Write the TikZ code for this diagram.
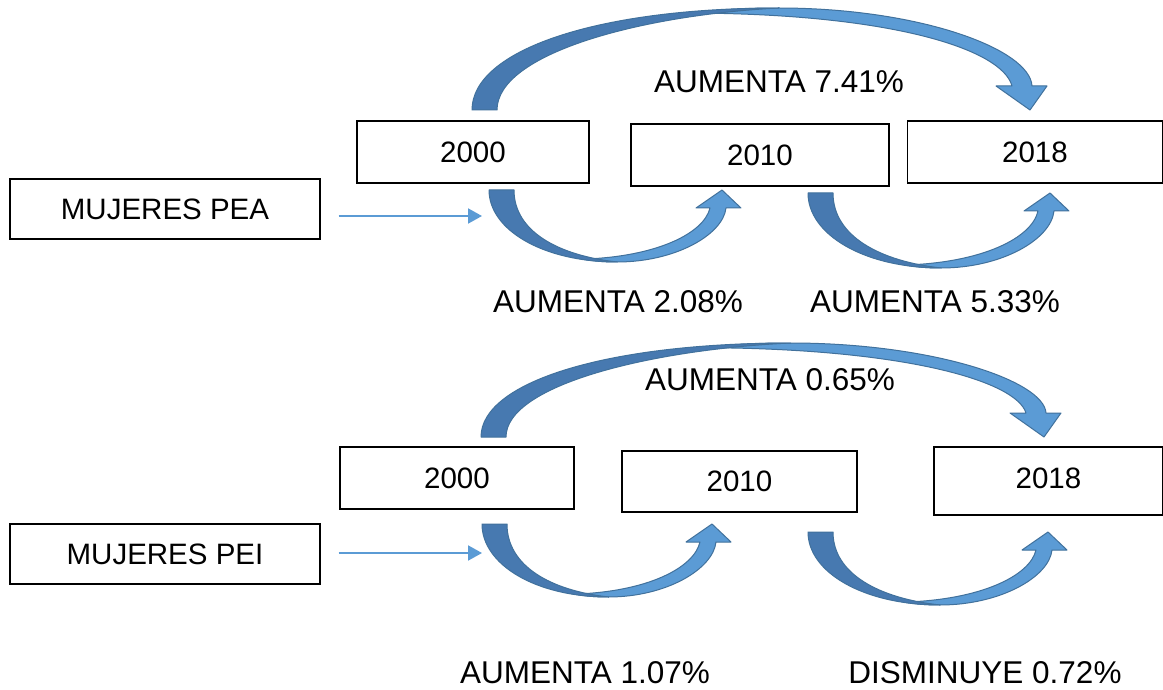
\documentclass[tikz,border=0pt]{standalone}
\usepackage{fontspec}
\setmainfont{Liberation Sans}
\usetikzlibrary{arrows.meta}
\definecolor{adark}{RGB}{71,121,176}
\definecolor{alight}{RGB}{91,155,213}
\definecolor{aline}{RGB}{65,113,156}
% U-shaped curved arrow (bulge downward)
\newcommand{\uarr}[4]{%
\begin{scope}[shift={(#1,#2)}]
\path[fill=alight, draw=aline, line width=1pt, line join=round]
 ({0.55*#3},#4) .. controls ({0.8*#3},#4) and ({#3+1},{0.62*#4}) .. ({#3+4},18)
 -- ({#3+19},18) -- (#3,0) -- ({#3-26},18) -- ({#3-12},18)
 .. controls ({#3-18},{0.6*#4}) and ({0.72*#3},{0.93*#4}) .. ({0.4*#3},{0.96*#4})
 .. controls ({0.45*#3},{0.99*#4}) and ({0.5*#3},#4) .. cycle;
\path[fill=adark, draw=aline, line width=1pt, line join=round]
 (0,0) .. controls (0,{0.55*#4}) and ({0.23*#3},#4) .. ({0.55*#3},#4)
 .. controls ({0.3*#3},{0.91*#4}) and (25,{0.58*#4}) .. (25,0) -- cycle;
\end{scope}}
% arch-shaped curved arrow (bulge upward)
\newcommand{\aarr}[4]{%
\begin{scope}[shift={(#1,#2)}, yscale=-1]
\path[fill=alight, draw=aline, line width=1pt, line join=round]
 ({0.55*#3},#4) .. controls ({0.8*#3},#4) and ({#3},{0.6*#4}) .. ({#3+2},24)
 -- ({#3+17},24) -- (#3,0) -- ({#3-34},24) -- ({#3-18},24)
 .. controls ({#3-28},{0.6*#4}) and ({0.75*#3},{0.94*#4}) .. ({0.4*#3},{0.95*#4})
 .. controls ({0.45*#3},{0.99*#4}) and ({0.5*#3},#4) .. cycle;
\path[fill=adark, draw=aline, line width=1pt, line join=round]
 (0,0) .. controls (0,{0.58*#4}) and ({0.22*#3},#4) .. ({0.55*#3},#4)
 .. controls ({0.3*#3},{0.93*#4}) and (25,{0.55*#4}) .. (25,0) -- cycle;
\end{scope}}
\tikzset{
  box/.style={draw=black, line width=1.2pt, fill=white, inner sep=0pt,
    font=\fontsize{29.5}{35}\selectfont},
  lbl/.style={inner sep=0pt, font=\fontsize{31.5}{37}\selectfont},
  thin arrow/.style={draw=alight, line width=2pt, -{Triangle[length=14pt,width=15pt]}}
}
\begin{document}
\begin{tikzpicture}[x=1pt,y=-1pt]
\path[fill=white, use as bounding box] (0,0) rectangle (1163,690);

% ---------- PEA ----------
\aarr{472}{110}{558}{102}
\node[box, minimum width=310pt, minimum height=60pt] (pea) at (165,209) {MUJERES PEA};
\node[box, minimum width=232pt, minimum height=62pt] (t2000) at (473,152) {2000};
\node[box, minimum width=258pt, minimum height=62pt] (t2010) at (760,155) {2010};
\node[box, minimum width=255pt, minimum height=62pt] (t2018) at (1035,152) {2018};
\uarr{489}{190}{233}{72}
\uarr{808}{193}{242}{75}
\coordinate (peatip) at (482,216);
\draw[thin arrow, shorten <=18pt] (pea.east |- peatip) -- (peatip);
\node[lbl] (l741) at (779,82) {AUMENTA 7.41\%};
\node[lbl] (l208) at (618,302) {AUMENTA 2.08\%};
\node[lbl] (l533) at (935,302) {AUMENTA 5.33\%};

% ---------- PEI ----------
\aarr{481}{437}{563}{94}
\node[box, minimum width=310pt, minimum height=60pt] (pei) at (165,554) {MUJERES PEI};
\node[box, minimum width=234pt, minimum height=62pt] (b2000) at (457,478) {2000};
\node[box, minimum width=235pt, minimum height=61pt] (b2010) at (739.5,481.5) {2010};
\node[box, minimum width=229pt, minimum height=68pt] (b2018) at (1048.5,481) {\raisebox{5pt}{2018}};
\uarr{482}{524}{230}{73}
\uarr{808}{532}{240}{73}
\coordinate (peitip) at (482,553);
\draw[thin arrow, shorten <=18pt] (pei.east |- peitip) -- (peitip);
\node[lbl] (l065) at (770,380) {AUMENTA 0.65\%};
\node[lbl] (l107) at (585,673) {AUMENTA 1.07\%};
\node[lbl] (l072) at (985,673) {DISMINUYE 0.72\%};
\end{tikzpicture}
\end{document}
